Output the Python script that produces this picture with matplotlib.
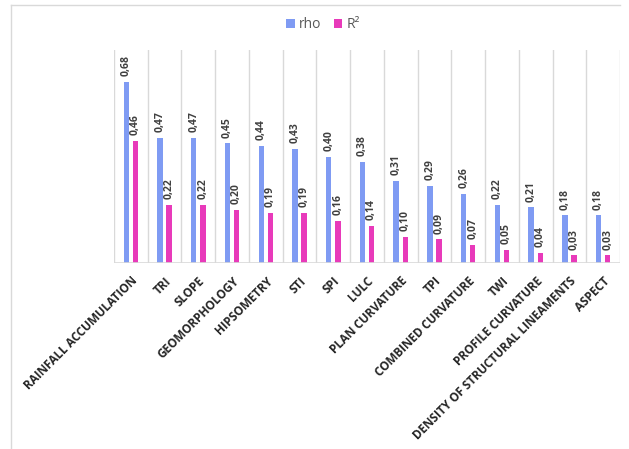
import numpy as np
import matplotlib
matplotlib.use("Agg")
import matplotlib.pyplot as plt
from matplotlib.lines import Line2D

categories = ["RAINFALL ACCUMULATION", "TRI", "SLOPE", "GEOMORPHOLOGY", "HIPSOMETRY",
              "STI", "SPI", "LULC", "PLAN CURVATURE", "TPI", "COMBINED CURVATURE",
              "TWI", "PROFILE CURVATURE", "DENSITY OF STRUCTURAL LINEAMENTS", "ASPECT"]
rho = [0.68, 0.47, 0.47, 0.45, 0.44, 0.43, 0.40, 0.38, 0.31, 0.29, 0.26, 0.22, 0.21, 0.18, 0.18]
r2 = [0.46, 0.22, 0.22, 0.20, 0.19, 0.19, 0.16, 0.14, 0.10, 0.09, 0.07, 0.05, 0.04, 0.03, 0.03]

plt.rcParams['font.family'] = ['Open Sans', 'DejaVu Sans']

col_rho = '#7f9bf3'
col_r2 = '#e83aba'
grid_col = '#d9d9d9'
text_col = '#404040'

fig = plt.figure(figsize=(6.29, 4.49), dpi=100)
ax = fig.add_axes([114 / 629, 1 - 263.3 / 449, 506 / 629, 213.3 / 449])

x = np.arange(len(categories))
w = 0.16
b1 = ax.bar(x - 0.135, rho, width=w, color=col_rho, label='rho', zorder=3)
b2 = ax.bar(x + 0.135, r2, width=w, color=col_r2, label='R²', zorder=3)

def fmt(v):
    return '{:.2f}'.format(v).replace('.', ',')

for bars, vals in ((b1, rho), (b2, r2)):
    for rect, v in zip(bars, vals):
        ax.annotate(fmt(v), (rect.get_x() + rect.get_width() / 2, v),
                    xytext=(0, 4), textcoords='offset points',
                    rotation=90, ha='center', va='bottom',
                    fontsize=7.5, fontweight='bold', color=text_col)

ax.set_xlim(-0.5, len(categories) - 0.5)
ax.set_ylim(0, 0.8)
for b in np.arange(-0.5, len(categories), 1.0):
    ax.axvline(b, color=grid_col, lw=1, zorder=1)
ax.axhline(0, color=grid_col, lw=1.2, zorder=4)

ax.set_yticks([])
ax.set_xticks(x)
ax.set_xticklabels(categories, rotation=45, ha='right', va='top',
                   rotation_mode='anchor', fontsize=8.5, fontweight='bold', color='#262626')
ax.tick_params(axis='x', length=0, pad=8)
for s in ax.spines.values():
    s.set_visible(False)

fig.legend(loc='center', bbox_to_anchor=(323 / 629, 1 - 25 / 449), ncol=2, frameon=False,
           handlelength=0.6, handleheight=0.6, handletextpad=0.3, columnspacing=0.9,
           fontsize=10, labelcolor='#595959')

# outer frame
x0 = 11 / 629
y0 = 1 - 5 / 449
fig.add_artist(Line2D([x0, x0], [0, y0], color=grid_col, lw=1, transform=fig.transFigure))
fig.add_artist(Line2D([x0, 620 / 629], [y0, y0], color=grid_col, lw=1, transform=fig.transFigure))

fig.savefig('out.png', dpi=100, facecolor='white')
